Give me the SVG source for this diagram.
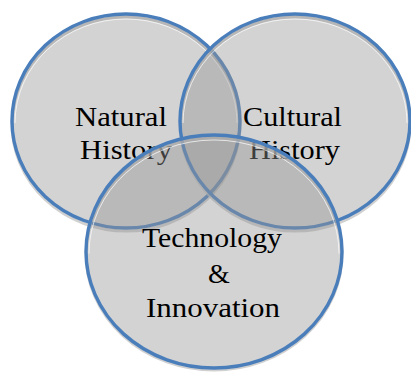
<svg xmlns="http://www.w3.org/2000/svg" width="411" height="373" viewBox="0 0 411 373">
<defs>
<style>
.shadow{fill:none;stroke:#bcbcbc;stroke-width:3;opacity:0.7}
.hl{fill:none;stroke:#ffffff;stroke-width:1;opacity:0.7}
.circ{fill:#949494;fill-opacity:0.41;stroke:#4a7ebb;stroke-width:3.4}
.lbl{font-family:"Liberation Serif","DejaVu Serif",serif;font-size:28px;fill:#000000}
</style>
</defs>
<rect width="411" height="373" fill="#ffffff"/>
<g id="natural-history">
<ellipse class="shadow" cx="126" cy="124" rx="114" ry="107"/>
<ellipse class="circ" cx="126" cy="121" rx="114" ry="107"/>
<path class="hl" d="M 15 123 A 111 104 0 0 1 237 123"/>
<text class="lbl" x="75" y="126" textLength="92" lengthAdjust="spacingAndGlyphs">Natural</text>
<text class="lbl" x="80" y="159" textLength="92" lengthAdjust="spacingAndGlyphs">History</text>
</g>
<g id="cultural-history">
<ellipse class="shadow" cx="295" cy="124" rx="115" ry="107"/>
<ellipse class="circ" cx="295" cy="121" rx="115" ry="107"/>
<path class="hl" d="M 183 123 A 112 104 0 0 1 407 123"/>
<text class="lbl" x="243" y="126" textLength="99" lengthAdjust="spacingAndGlyphs">Cultural</text>
<text class="lbl" x="249" y="159" textLength="91" lengthAdjust="spacingAndGlyphs">History</text>
</g>
<g id="technology-innovation">
<ellipse class="shadow" cx="214" cy="254" rx="128" ry="116"/>
<ellipse class="circ" cx="214" cy="251.5" rx="128" ry="116.5"/>
<path class="hl" d="M 89 253.5 A 125 113.5 0 0 1 339 253.5"/>
<text class="lbl" x="142" y="247" textLength="140" lengthAdjust="spacingAndGlyphs">Technology</text>
<text class="lbl" x="208" y="283">&amp;</text>
<text class="lbl" x="146" y="317" textLength="134" lengthAdjust="spacingAndGlyphs">Innovation</text>
</g>
<g id="connectors"></g>
</svg>
